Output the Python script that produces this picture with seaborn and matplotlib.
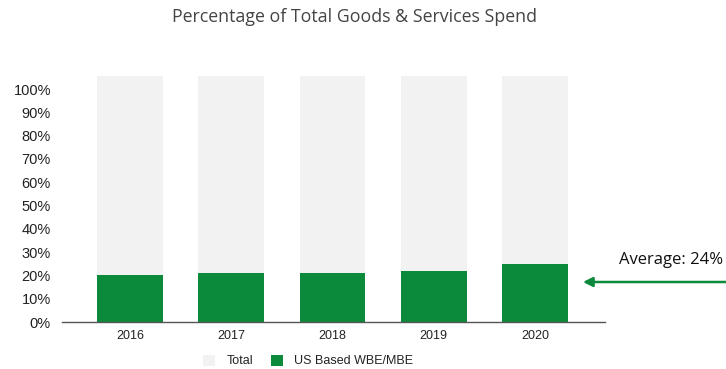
import matplotlib
matplotlib.use("Agg")
import matplotlib.pyplot as plt
import seaborn as sns
import pandas as pd
from matplotlib.patches import Patch

years = ["2016", "2017", "2018", "2019", "2020"]
total_pct = [105.6, 105.6, 105.6, 105.6, 105.6]
wbe_mbe_pct = [20.2, 21.0, 21.0, 21.9, 25.0]
average_pct = 24
yticks = list(range(0, 101, 10))

GREEN = "#0b8a3b"
GREY = "#f2f2f2"

df = pd.DataFrame({"year": years, "total": total_pct, "wbe": wbe_mbe_pct})

sns.set_theme(style="white")
plt.rcParams["font.family"] = ["Liberation Sans", "DejaVu Sans"]

fig = plt.figure(figsize=(7.26, 3.69), dpi=100)
ax = fig.add_axes([62 / 726, 47 / 369, (605 - 62) / 726, (322 - 76) / 369])

sns.barplot(data=df, x="year", y="total", color=GREY, width=0.65, ax=ax,
            saturation=1, edgecolor="none")
sns.barplot(data=df, x="year", y="wbe", color=GREEN, width=0.65, ax=ax,
            saturation=1, edgecolor="none")

ax.set_xlim(-0.67, 4.69)
ax.set_ylim(0, 105.6)
ax.set_yticks(yticks)
ax.set_yticklabels([f"{t}%" for t in yticks], fontsize=10.5, color="#222222")
ax.tick_params(axis="y", length=0, pad=8)
ax.tick_params(axis="x", length=0, pad=6, labelsize=9, labelcolor="#222222")
ax.set_xlabel("")
ax.set_ylabel("")
for s in ["top", "right", "left"]:
    ax.spines[s].set_visible(False)
ax.spines["bottom"].set_color("#555555")
ax.spines["bottom"].set_linewidth(1)

fig.text(354 / 726, 1 - 17 / 369, "Percentage of Total Goods & Services Spend",
         ha="center", va="center", fontsize=12.8, color="#444444",
         family=["Open Sans", "DejaVu Sans"])

# Average annotation
ax.annotate("", xy=(583 / 726, 1 - 282 / 369), xycoords="figure fraction",
            xytext=(1.0, 1 - 282 / 369), textcoords="figure fraction",
            arrowprops=dict(arrowstyle="-|>", color=GREEN, lw=1.8,
                            mutation_scale=14, shrinkA=0, shrinkB=0),
            annotation_clip=False)
fig.text(671 / 726, 1 - 260 / 369, f"Average: {average_pct}%", ha="center",
         va="center", fontsize=12, color="#111111",
         family=["Open Sans", "DejaVu Sans"])

handles = [Patch(facecolor=GREY, edgecolor="none", label="Total"),
           Patch(facecolor=GREEN, edgecolor="none", label="US Based WBE/MBE")]
fig.legend(handles=handles, loc="center", bbox_to_anchor=(308 / 726, 1 - 361 / 369),
           ncol=2, frameon=False, fontsize=9, handlelength=1.0, handleheight=1.0,
           columnspacing=1.4, handletextpad=0.9, labelcolor="#222222")

fig.savefig("out.png", dpi=100)
